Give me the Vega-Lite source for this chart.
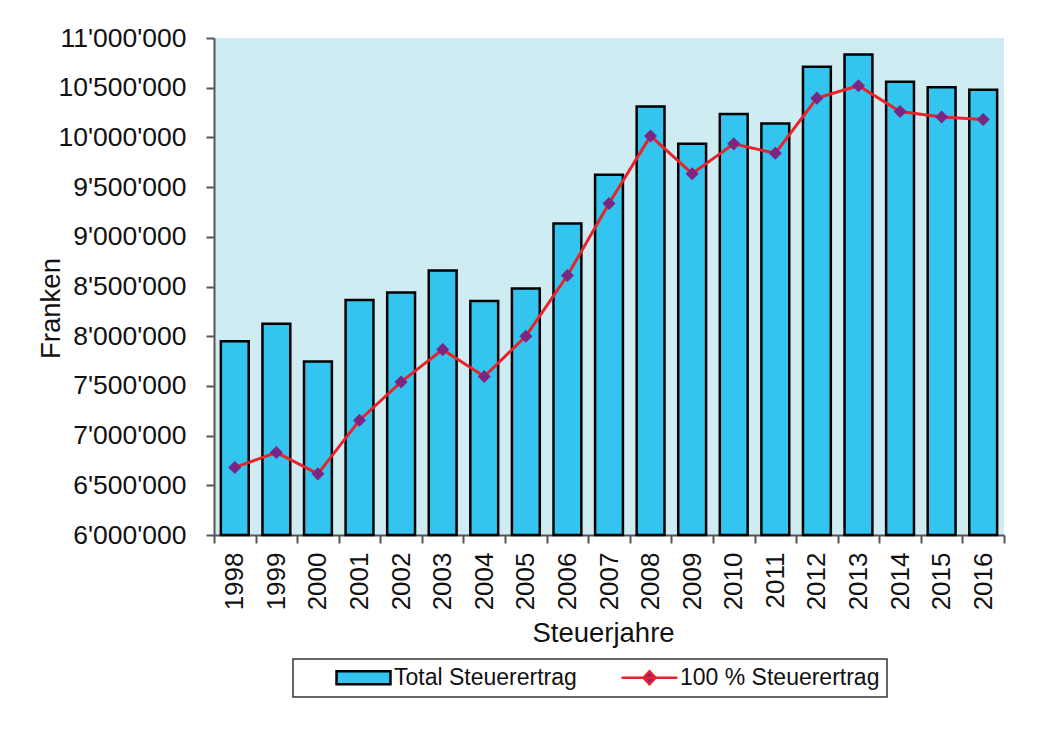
{
  "$schema": "https://vega.github.io/schema/vega-lite/v6.json",
  "width": 790,
  "height": 497,
  "autosize": {"type": "none"},
  "padding": {"left": 214, "top": 38, "right": 37, "bottom": 195},
  "background": "white",
  "config": {
    "font": "Liberation Sans",
    "view": {"fill": "#D0ECF3", "stroke": null},
    "legend": {
      "orient": "none",
      "legendX": 79,
      "legendY": 621,
      "direction": "horizontal",
      "strokeColor": "#333",
      "fillColor": "#fff",
      "padding": 7,
      "symbolOffset": 52,
      "columnPadding": 9,
      "labelOffset": 19,
      "labelFont": "Liberation Sans",
      "labelFontSize": 23,
      "labelColor": "#111",
      "labelLimit": 400,
      "symbolSize": 169,
      "symbolStrokeWidth": 2.5,
      "symbolFillColor": "#33C4F0",
      "symbolStrokeColor": "#000000",
      "symbolOpacity": 1
    }
  },
  "data": {
    "values": [
      {"Jahr": "1998", "Serie": "Total Steuerertrag", "Wert": 7950000},
      {"Jahr": "1999", "Serie": "Total Steuerertrag", "Wert": 8125000},
      {"Jahr": "2000", "Serie": "Total Steuerertrag", "Wert": 7745000},
      {"Jahr": "2001", "Serie": "Total Steuerertrag", "Wert": 8365000},
      {"Jahr": "2002", "Serie": "Total Steuerertrag", "Wert": 8440000},
      {"Jahr": "2003", "Serie": "Total Steuerertrag", "Wert": 8660000},
      {"Jahr": "2004", "Serie": "Total Steuerertrag", "Wert": 8355000},
      {"Jahr": "2005", "Serie": "Total Steuerertrag", "Wert": 8480000},
      {"Jahr": "2006", "Serie": "Total Steuerertrag", "Wert": 9135000},
      {"Jahr": "2007", "Serie": "Total Steuerertrag", "Wert": 9625000},
      {"Jahr": "2008", "Serie": "Total Steuerertrag", "Wert": 10310000},
      {"Jahr": "2009", "Serie": "Total Steuerertrag", "Wert": 9935000},
      {"Jahr": "2010", "Serie": "Total Steuerertrag", "Wert": 10235000},
      {"Jahr": "2011", "Serie": "Total Steuerertrag", "Wert": 10140000},
      {"Jahr": "2012", "Serie": "Total Steuerertrag", "Wert": 10710000},
      {"Jahr": "2013", "Serie": "Total Steuerertrag", "Wert": 10835000},
      {"Jahr": "2014", "Serie": "Total Steuerertrag", "Wert": 10560000},
      {"Jahr": "2015", "Serie": "Total Steuerertrag", "Wert": 10505000},
      {"Jahr": "2016", "Serie": "Total Steuerertrag", "Wert": 10480000},
      {"Jahr": "1998", "Serie": "100 % Steuerertrag", "Wert": 6680000},
      {"Jahr": "1999", "Serie": "100 % Steuerertrag", "Wert": 6830000},
      {"Jahr": "2000", "Serie": "100 % Steuerertrag", "Wert": 6615000},
      {"Jahr": "2001", "Serie": "100 % Steuerertrag", "Wert": 7155000},
      {"Jahr": "2002", "Serie": "100 % Steuerertrag", "Wert": 7540000},
      {"Jahr": "2003", "Serie": "100 % Steuerertrag", "Wert": 7865000},
      {"Jahr": "2004", "Serie": "100 % Steuerertrag", "Wert": 7595000},
      {"Jahr": "2005", "Serie": "100 % Steuerertrag", "Wert": 8000000},
      {"Jahr": "2006", "Serie": "100 % Steuerertrag", "Wert": 8610000},
      {"Jahr": "2007", "Serie": "100 % Steuerertrag", "Wert": 9335000},
      {"Jahr": "2008", "Serie": "100 % Steuerertrag", "Wert": 10015000},
      {"Jahr": "2009", "Serie": "100 % Steuerertrag", "Wert": 9635000},
      {"Jahr": "2010", "Serie": "100 % Steuerertrag", "Wert": 9935000},
      {"Jahr": "2011", "Serie": "100 % Steuerertrag", "Wert": 9840000},
      {"Jahr": "2012", "Serie": "100 % Steuerertrag", "Wert": 10395000},
      {"Jahr": "2013", "Serie": "100 % Steuerertrag", "Wert": 10520000},
      {"Jahr": "2014", "Serie": "100 % Steuerertrag", "Wert": 10260000},
      {"Jahr": "2015", "Serie": "100 % Steuerertrag", "Wert": 10205000},
      {"Jahr": "2016", "Serie": "100 % Steuerertrag", "Wert": 10180000}
    ]
  },
  "encoding": {
    "x": {
      "field": "Jahr",
      "type": "ordinal",
      "scale": {"paddingInner": 0, "paddingOuter": 0},
      "axis": {
        "title": "Steuerjahre",
        "labelAngle": -90,
        "tickBand": "extent",
        "tickSize": 8,
        "tickWidth": 2,
        "tickColor": "#555",
        "domainColor": "#555",
        "domainWidth": 2,
        "labelPadding": 9,
        "labelFont": "Liberation Sans",
        "labelFontSize": 26,
        "labelColor": "#111",
        "labelOverlap": false,
        "titleFont": "Liberation Sans",
        "titleFontSize": 27.5,
        "titleFontWeight": "normal",
        "titleColor": "#111",
        "titlePadding": 10,
        "titleX": 389
      }
    },
    "y": {
      "field": "Wert",
      "type": "quantitative",
      "scale": {"domain": [6000000, 11000000], "nice": false, "zero": false},
      "axis": {
        "title": "Franken",
        "values": [6000000, 6500000, 7000000, 7500000, 8000000, 8500000, 9000000, 9500000, 10000000, 10500000, 11000000],
        "labelExpr": "replace(format(datum.value, ','), regexp(',', 'g'), \"'\")",
        "grid": false,
        "tickSize": 8,
        "tickWidth": 2,
        "tickColor": "#555",
        "domainColor": "#555",
        "domainWidth": 2,
        "labelPadding": 20,
        "labelFont": "Liberation Sans",
        "labelFontSize": 26.5,
        "labelColor": "#111",
        "labelOverlap": false,
        "titleFont": "Liberation Sans",
        "titleFontSize": 27.5,
        "titleFontWeight": "normal",
        "titleColor": "#111",
        "titlePadding": -8,
        "titleY": 270
      }
    }
  },
  "layer": [
    {
      "transform": [{"filter": "datum.Serie == 'Total Steuerertrag'"}],
      "mark": {"type": "bar", "width": {"band": 0.67}, "strokeWidth": 2.5, "opacity": 1},
      "encoding": {
        "y2": {"datum": 6000000},
        "fill": {
          "field": "Serie",
          "type": "nominal",
          "scale": {"domain": ["Total Steuerertrag", "100 % Steuerertrag"], "range": ["#33C4F0", "#7B2683"]},
          "legend": {
            "title": null,
            "encode": {
              "legend": {"update": {"strokeWidth": {"value": 1.5}}},
              "symbols": {
                "update": {
                  "shape": {"signal": "datum.value === 'Total Steuerertrag' ? 'M-4.15,-1H4.15V1H-4.15Z' : 'M-4.3,0H4.3M-0.95,0L0,-1L0.95,0L0,1Z'"}
                }
              }
            }
          }
        },
        "stroke": {
          "field": "Serie",
          "type": "nominal",
          "scale": {"domain": ["Total Steuerertrag", "100 % Steuerertrag"], "range": ["#000000", "#E8232A"]},
          "legend": {
            "title": null,
            "encode": {
              "legend": {"update": {"strokeWidth": {"value": 1.5}}},
              "symbols": {
                "update": {
                  "shape": {"signal": "datum.value === 'Total Steuerertrag' ? 'M-4.15,-1H4.15V1H-4.15Z' : 'M-4.3,0H4.3M-0.95,0L0,-1L0.95,0L0,1Z'"}
                }
              }
            }
          }
        }
      }
    },
    {
      "transform": [{"filter": "datum.Serie == '100 % Steuerertrag'"}],
      "mark": {"type": "line", "strokeWidth": 3},
      "encoding": {
        "stroke": {"field": "Serie", "type": "nominal"}
      }
    },
    {
      "transform": [{"filter": "datum.Serie == '100 % Steuerertrag'"}],
      "mark": {"type": "point", "shape": "diamond", "filled": true, "size": 170, "opacity": 1, "strokeWidth": 0},
      "encoding": {
        "fill": {"field": "Serie", "type": "nominal"}
      }
    }
  ]
}
